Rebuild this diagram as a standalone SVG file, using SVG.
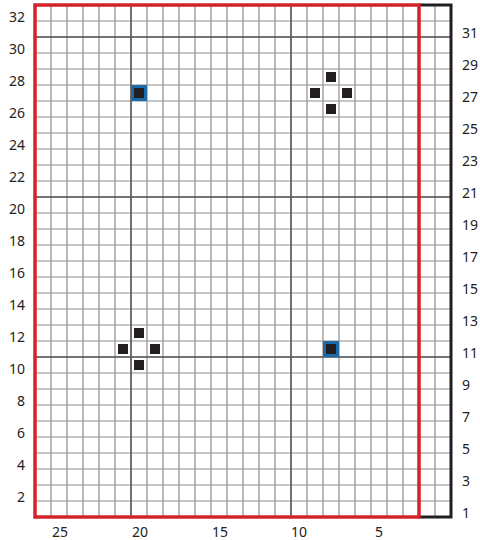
<svg xmlns="http://www.w3.org/2000/svg" width="480" height="540" viewBox="0 0 480 540">
<style>
.g{stroke:#8e8e8e;stroke-width:1.2;fill:none}
.d{stroke:#5a5a5a;stroke-width:1.5;fill:none}
.t{font-family:"Noto Sans","Open Sans",sans-serif;font-size:14px;fill:#222}
.l{text-anchor:end}
.b{text-anchor:middle}
.s{fill:#231f20}
.bl{fill:#231f20;stroke:#1b6aab;stroke-width:3}
</style>
<defs>
<pattern id="cell" x="35" y="5" width="16" height="16" patternUnits="userSpaceOnUse">
<path d="M0,0.5 H16 M0.5,0 V16" stroke="#8e8e8e" stroke-width="1.2" fill="none"/>
</pattern>
</defs>
<rect x="0" y="0" width="480" height="540" fill="#fff"/>
<g id="grid">
<path class="g" d="M35,5V517M51,5V517M67,5V517M83,5V517M99,5V517M115,5V517M131,5V517M147,5V517M163,5V517M179,5V517M195,5V517M211,5V517M227,5V517M243,5V517M259,5V517M275,5V517M291,5V517M307,5V517M323,5V517M339,5V517M355,5V517M371,5V517M387,5V517M403,5V517M419,5V517M435,5V517M451,5V517"/>
<path class="g" d="M35,5H451M35,21H451M35,37H451M35,53H451M35,69H451M35,85H451M35,101H451M35,117H451M35,133H451M35,149H451M35,165H451M35,181H451M35,197H451M35,213H451M35,229H451M35,245H451M35,261H451M35,277H451M35,293H451M35,309H451M35,325H451M35,341H451M35,357H451M35,373H451M35,389H451M35,405H451M35,421H451M35,437H451M35,453H451M35,469H451M35,485H451M35,501H451M35,517H451"/>
<path class="d" d="M131,5V517M291,5V517M35,37H451M35,197H451M35,357H451"/>
<path d="M419,5H451V517H419" fill="none" stroke="#231f20" stroke-width="3"/>
<rect x="35" y="5" width="384" height="512" fill="none" stroke="#d2232a" stroke-width="3.5"/>
</g>
<g id="labels-left" class="t l">
<text x="25" y="21.5">32</text>
<text x="25" y="53.5">30</text>
<text x="25" y="85.5">28</text>
<text x="25" y="117.5">26</text>
<text x="25" y="149.5">24</text>
<text x="25" y="181.5">22</text>
<text x="25" y="213.5">20</text>
<text x="25" y="245.5">18</text>
<text x="25" y="277.5">16</text>
<text x="25" y="309.5">14</text>
<text x="25" y="341.5">12</text>
<text x="25" y="373.5">10</text>
<text x="25" y="405.5">8</text>
<text x="25" y="437.5">6</text>
<text x="25" y="469.5">4</text>
<text x="25" y="501.5">2</text>
</g>
<g id="labels-right" class="t">
<text x="462" y="37.5">31</text>
<text x="462" y="69.5">29</text>
<text x="462" y="101.5">27</text>
<text x="462" y="133.5">25</text>
<text x="462" y="165.5">23</text>
<text x="462" y="197.5">21</text>
<text x="462" y="229.5">19</text>
<text x="462" y="261.5">17</text>
<text x="462" y="293.5">15</text>
<text x="462" y="325.5">13</text>
<text x="462" y="357.5">11</text>
<text x="462" y="389.5">9</text>
<text x="462" y="421.5">7</text>
<text x="462" y="453.5">5</text>
<text x="462" y="485.5">3</text>
<text x="462" y="517.5">1</text>
</g>
<g id="labels-bottom" class="t b">
<text x="60" y="537">25</text>
<text x="140" y="537">20</text>
<text x="220" y="537">15</text>
<text x="299" y="537">10</text>
<text x="379" y="537">5</text>
</g>
<g id="node-20-27"><rect class="bl" x="132.5" y="86.5" width="13" height="13"/></g>
<g id="node-8-11"><rect class="bl" x="324.5" y="342.5" width="13" height="13"/></g>
<g id="cluster-top">
<rect id="node-8-28" class="s" x="326" y="72" width="10" height="10"/>
<rect id="node-9-27" class="s" x="310" y="88" width="10" height="10"/>
<rect id="node-7-27" class="s" x="342" y="88" width="10" height="10"/>
<rect id="node-8-26" class="s" x="326" y="104" width="10" height="10"/>
</g>
<g id="cluster-bottom">
<rect id="node-20-12" class="s" x="134" y="328" width="10" height="10"/>
<rect id="node-21-11" class="s" x="118" y="344" width="10" height="10"/>
<rect id="node-19-11" class="s" x="150" y="344" width="10" height="10"/>
<rect id="node-20-10" class="s" x="134" y="360" width="10" height="10"/>
</g>
</svg>
